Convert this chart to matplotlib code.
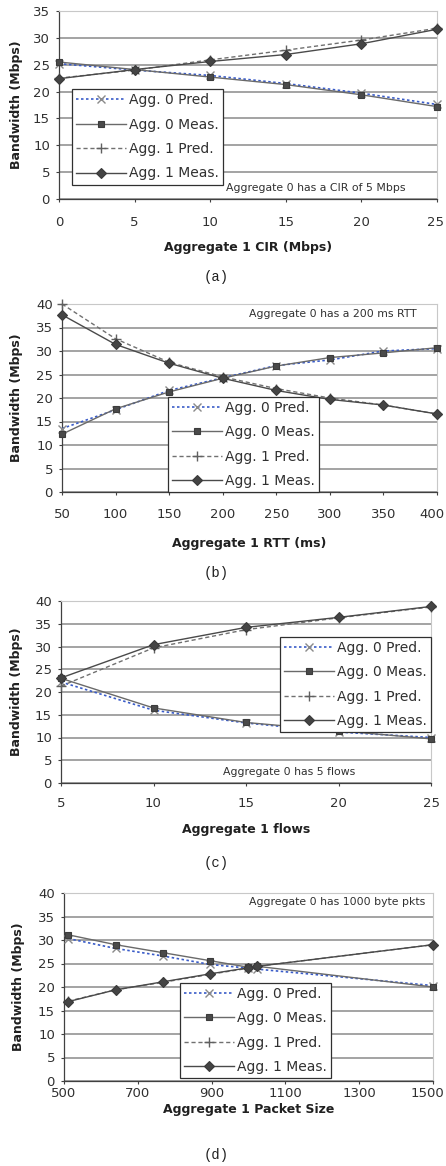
import matplotlib
matplotlib.use("Agg")
import matplotlib.pyplot as plt
import matplotlib.transforms as mtransforms

plt.rcParams['font.family'] = ['DejaVu Sans']

# ---------------- data ----------------
# (a) Aggregate 1 CIR
cir_x = [0, 5, 10, 15, 20, 25]
cir_agg0_pred = [25.2, 24.0, 23.0, 21.5, 19.7, 17.6]
cir_agg0_meas = [25.5, 24.1, 22.7, 21.3, 19.4, 17.2]
cir_agg1_pred = [22.5, 24.0, 25.9, 27.7, 29.6, 31.8]
cir_agg1_meas = [22.4, 24.1, 25.6, 26.9, 28.9, 31.6]

# (b) Aggregate 1 RTT
rtt_x = [50, 100, 150, 200, 250, 300, 350, 400]
rtt_agg0_pred = [13.5, 17.5, 21.6, 24.3, 26.9, 28.1, 30.0, 30.5]
rtt_agg0_meas = [12.3, 17.7, 21.3, 24.2, 26.8, 28.6, 29.6, 30.7]
rtt_agg1_pred = [40.0, 32.6, 27.6, 24.5, 22.0, 20.0, 18.5, 16.6]
rtt_agg1_meas = [37.7, 31.4, 27.4, 24.2, 21.6, 19.7, 18.5, 16.6]

# (c) Aggregate 1 flows
flw_x = [5, 10, 15, 20, 25]
flw_agg0_pred = [22.2, 16.0, 13.2, 11.2, 10.0]
flw_agg0_meas = [23.0, 16.5, 13.3, 11.5, 9.7]
flw_agg1_pred = [21.3, 29.7, 33.7, 36.3, 38.7]
flw_agg1_meas = [23.1, 30.4, 34.2, 36.4, 38.8]

# (d) Aggregate 1 packet size
pkt_x = [512, 640, 768, 896, 1000, 1024, 1500]
pkt_agg0_pred = [30.3, 28.2, 26.6, 24.8, 24.0, 23.8, 20.3]
pkt_agg0_meas = [31.1, 29.0, 27.3, 25.6, 24.2, 24.4, 20.0]
pkt_agg1_pred = [17.0, 19.4, 21.0, 22.7, 24.0, 24.4, 29.0]
pkt_agg1_meas = [16.9, 19.4, 21.1, 22.8, 24.1, 24.4, 29.0]

series_labels = ['Agg. 0 Pred.', 'Agg. 0 Meas.', 'Agg. 1 Pred.', 'Agg. 1 Meas.']

panels = [
    dict(x=cir_x, ys=[cir_agg0_pred, cir_agg0_meas, cir_agg1_pred, cir_agg1_meas],
         xlabel='Aggregate 1 CIR (Mbps)', note='Aggregate 0 has a CIR of 5 Mbps',
         cap='(a)', xlim=(0, 25), ylim=(0, 35), xticks=list(range(0, 26, 5)),
         yticks=list(range(0, 36, 5))),
    dict(x=rtt_x, ys=[rtt_agg0_pred, rtt_agg0_meas, rtt_agg1_pred, rtt_agg1_meas],
         xlabel='Aggregate 1 RTT (ms)', note='Aggregate 0 has a 200 ms RTT',
         cap='(b)', xlim=(50, 400), ylim=(0, 40), xticks=list(range(50, 401, 50)),
         yticks=list(range(0, 41, 5))),
    dict(x=flw_x, ys=[flw_agg0_pred, flw_agg0_meas, flw_agg1_pred, flw_agg1_meas],
         xlabel='Aggregate 1 flows', note='Aggregate 0 has 5 flows',
         cap='(c)', xlim=(5, 25), ylim=(0, 40), xticks=list(range(5, 26, 5)),
         yticks=list(range(0, 41, 5))),
    dict(x=pkt_x, ys=[pkt_agg0_pred, pkt_agg0_meas, pkt_agg1_pred, pkt_agg1_meas],
         xlabel='Aggregate 1 Packet Size', note='Aggregate 0 has 1000 byte pkts',
         cap='(d)', xlim=(500, 1500), ylim=(0, 40), xticks=list(range(500, 1501, 200)),
         yticks=list(range(0, 41, 5))),
]

# ---------------- layout (pixels) ----------------
W, H = 446, 1166
axes_px = [(59, 11, 437, 199), (62, 304, 437, 492), (61, 601, 431, 783), (64, 893, 433, 1081)]
ylabel_x = [17, 16, 17, 18]
xlabel_y = [248, 543, 830, 1110]
tick_pad_pt = [10.0, 8.8, 7.8, 1.6]
cap_y = [277, 573, 863, 1155]
note_pos = [(0.679, 0.06), (0.723, 0.947), (0.616, 0.062), (0.741, 0.95)]
legend_anchor = [(0.034, 0.585), (0.283, 0.507), (0.592, 0.804), (0.314, 0.523)]

styles = [
    dict(color='#3a5cc8', ls=(0, (1.5, 1.5)), lw=1.2, marker='x', ms=6, mec='#8a8a8a', mfc='#8a8a8a', mew=1.0),
    dict(color='#6a6a6a', ls='-', lw=1.0, marker='s', ms=5, mec='#3c3c3c', mfc='#4a4a4a', mew=0.8),
    dict(color='#707070', ls=(0, (3, 2)), lw=1.0, marker='+', ms=7, mec='#606060', mfc='#606060', mew=1.0),
    dict(color='#4a4a4a', ls='-', lw=1.0, marker='D', ms=5, mec='#3a3a3a', mfc='#444444', mew=0.8),
]

fig = plt.figure(figsize=(W / 100, H / 100), dpi=100)
fig.patch.set_facecolor('white')

for i, p in enumerate(panels):
    l, t, r, b = axes_px[i]
    ax = fig.add_axes([l / W, 1 - b / H, (r - l) / W, (b - t) / H])
    ax.set_xlim(*p['xlim'])
    ax.set_ylim(*p['ylim'])
    ax.set_xticks(p['xticks'])
    ax.set_yticks(p['yticks'])
    ax.yaxis.grid(True, color='#8a8a8a', lw=1.1)
    ax.set_axisbelow(True)
    for s in ['top', 'right']:
        ax.spines[s].set_color('#c8c8c8')
        ax.spines[s].set_linewidth(0.8)
    for s in ['left', 'bottom']:
        ax.spines[s].set_color('#404040')
        ax.spines[s].set_linewidth(0.9)
    ax.tick_params(axis='both', direction='out', length=2.5, width=0.8, color='#404040',
                   labelsize=9.5, labelcolor='#303030')
    ax.tick_params(axis='x', pad=tick_pad_pt[i])
    ax.tick_params(axis='y', pad=4)

    handles = []
    for ys, lab, st in zip(p['ys'], series_labels, styles):
        h, = ax.plot(p['x'], ys, label=lab, clip_on=False, zorder=3, **st)
        handles.append(h)

    ax.set_ylabel('Bandwidth (Mbps)', fontsize=9, fontweight='bold', color='#202020')
    ax.yaxis.set_label_coords((ylabel_x[i] - l) / (r - l), 0.5)
    ax.yaxis.label.set_va('center')
    ax.set_xlabel(p['xlabel'], fontsize=9, fontweight='bold', color='#202020')
    ax.xaxis.set_label_coords(0.5, -(xlabel_y[i] - b) / (b - t))
    ax.xaxis.label.set_va('center')

    # keep the right-most x tick label inside the canvas
    fig.canvas.draw()
    last = ax.get_xticklabels()[-1]
    bb = last.get_window_extent()
    over = bb.x1 - (W - 1)
    if over > 0:
        last.set_transform(last.get_transform() +
                           mtransforms.ScaledTranslation(-(over + 0.5) / 100, 0, fig.dpi_scale_trans))

    nx, ny = note_pos[i]
    ax.text(nx, ny, p['note'], transform=ax.transAxes, ha='center', va='center',
            fontsize=7.8, color='#303030')

    leg = ax.legend(handles=handles, loc='upper left', bbox_to_anchor=legend_anchor[i],
                    fontsize=10, frameon=True, fancybox=False, framealpha=1,
                    edgecolor='#303030', handlelength=3.6, labelspacing=0.75,
                    borderpad=0.3, handletextpad=0.2, borderaxespad=0)
    leg.get_frame().set_linewidth(0.9)
    for txt in leg.get_texts():
        txt.set_color('#303030')

    fig.text(216 / W, 1 - cap_y[i] / H, p['cap'], ha='center', va='center',
             fontsize=10, family=['Liberation Mono', 'DejaVu Sans Mono'], color='#202020')

fig.savefig('out.png', dpi=100, facecolor='white')
